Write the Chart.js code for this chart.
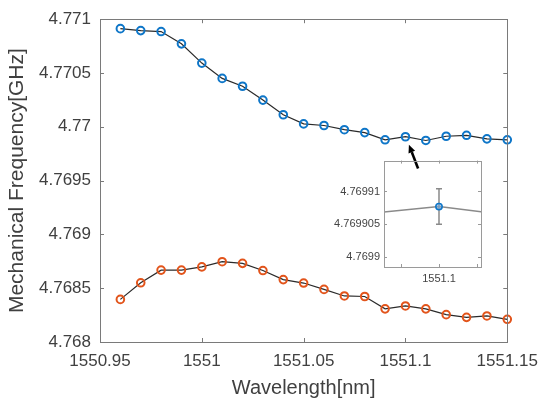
<!DOCTYPE html>
<html>
<head>
<meta charset="utf-8">
<script src="https://cdn.jsdelivr.net/npm/chart.js@4"></script>
<style>
  body { margin: 0; background: #fff; }
  #wrap { position: relative; width: 547px; height: 406px; }
  #main { position: absolute; left: 0; top: 0; }
  #inset { position: absolute; left: 320px; top: 150px; }
</style>
</head>
<body>
<div id="wrap">
  <canvas id="main" width="547" height="406"></canvas>
  <canvas id="inset" width="170" height="140"></canvas>
</div>
<script>
// wavelength [nm]
const wavelength = [1550.96, 1550.97, 1550.98, 1550.99, 1551.00, 1551.01, 1551.02, 1551.03, 1551.04, 1551.05,
                    1551.06, 1551.07, 1551.08, 1551.09, 1551.10, 1551.11, 1551.12, 1551.13, 1551.14, 1551.15];
// mechanical frequency [GHz]
const upperMode = [4.770912, 4.770894, 4.770885, 4.770771, 4.770592, 4.770450, 4.770377, 4.770248, 4.770112, 4.770027,
                   4.770012, 4.769973, 4.769946, 4.769879, 4.7699077, 4.769873, 4.769912, 4.769921, 4.769888, 4.769879];
const lowerMode = [4.768396, 4.768550, 4.768668, 4.768668, 4.768698, 4.768746, 4.768731, 4.768664, 4.768580, 4.768548,
                   4.768489, 4.768428, 4.768423, 4.768308, 4.768335, 4.768308, 4.768254, 4.768229, 4.768242, 4.768211];

// inset: zoom on the point at 1551.1 with its error bar
const errX = [1551.1];
const errLow = [4.769905];
const errHigh = [4.7699104];
const insetXLabels = ['1551.1'];

// arrow pointing from inset to the zoomed point [x, y]
const arrowFrom = [1551.1062, 4.769613];
const arrowTo = [1551.1017, 4.769834];

const FONT = "'Liberation Sans', Arial, sans-serif";
const BLUE = '#0e76c8';
const ORANGE = '#e2541b';

function toPoints(xs, ys) {
  return xs.map((x, i) => ({ x: x, y: ys[i] }));
}

function fmt(digits) {
  return v => String(+Number(v).toFixed(digits));
}

// MATLAB-like box with inward ticks
const boxTicks = {
  id: 'boxTicks',
  afterDraw(chart, args, opts) {
    const { ctx, chartArea: a, scales: { x, y } } = chart;
    ctx.save();
    ctx.strokeStyle = opts.color;
    ctx.lineWidth = 1;
    ctx.beginPath();
    x.ticks.forEach(t => {
      const px = Math.round(x.getPixelForValue(t.value)) + 0.5;
      ctx.moveTo(px, a.bottom); ctx.lineTo(px, a.bottom - opts.len);
      ctx.moveTo(px, a.top); ctx.lineTo(px, a.top + opts.len);
    });
    y.ticks.forEach(t => {
      const py = Math.round(y.getPixelForValue(t.value)) + 0.5;
      ctx.moveTo(a.left, py); ctx.lineTo(a.left + opts.len, py);
      ctx.moveTo(a.right, py); ctx.lineTo(a.right - opts.len, py);
    });
    ctx.stroke();
    ctx.strokeRect(Math.round(a.left) + 0.5, Math.round(a.top) + 0.5,
                   Math.round(a.width), Math.round(a.height));
    ctx.restore();
  }
};

const arrowPlugin = {
  id: 'arrow',
  afterDraw(chart) {
    const { ctx, scales: { x, y } } = chart;
    const x0 = x.getPixelForValue(arrowFrom[0]), y0 = y.getPixelForValue(arrowFrom[1]);
    const x1 = x.getPixelForValue(arrowTo[0]), y1 = y.getPixelForValue(arrowTo[1]);
    const ang = Math.atan2(y1 - y0, x1 - x0);
    const hl = 8, hw = 3.5;
    const bx = x1 - hl * Math.cos(ang), by = y1 - hl * Math.sin(ang);
    ctx.save();
    ctx.strokeStyle = '#000';
    ctx.fillStyle = '#000';
    ctx.lineWidth = 2.6;
    ctx.beginPath();
    ctx.moveTo(x0, y0);
    ctx.lineTo(bx, by);
    ctx.stroke();
    ctx.beginPath();
    ctx.moveTo(x1, y1);
    ctx.lineTo(bx + hw * Math.sin(ang), by - hw * Math.cos(ang));
    ctx.lineTo(bx - hw * Math.sin(ang), by + hw * Math.cos(ang));
    ctx.closePath();
    ctx.fill();
    ctx.restore();
  }
};

const errorBars = {
  id: 'errorBars',
  beforeDatasetsDraw(chart) {
    const { ctx, scales: { x, y } } = chart;
    ctx.save();
    ctx.strokeStyle = '#8a8a8a';
    ctx.lineWidth = 1.5;
    ctx.beginPath();
    errX.forEach((xv, i) => {
      const px = x.getPixelForValue(xv);
      const pl = y.getPixelForValue(errLow[i]), ph = y.getPixelForValue(errHigh[i]);
      ctx.moveTo(px, pl); ctx.lineTo(px, ph);
      ctx.moveTo(px - 3, pl); ctx.lineTo(px + 3, pl);
      ctx.moveTo(px - 3, ph); ctx.lineTo(px + 3, ph);
    });
    ctx.stroke();
    ctx.restore();
  }
};

Chart.defaults.font.family = FONT;
Chart.defaults.animation = false;
Chart.defaults.events = [];

new Chart(document.getElementById('main'), {
  type: 'line',
  data: {
    datasets: [
      {
        data: toPoints(wavelength, upperMode),
        borderColor: '#2a2a2a', borderWidth: 1.2,
        pointRadius: 3.8, pointBorderWidth: 2,
        pointBorderColor: BLUE, pointBackgroundColor: 'rgba(0,0,0,0)',
        clip: false
      },
      {
        data: toPoints(wavelength, lowerMode),
        borderColor: '#2a2a2a', borderWidth: 1.2,
        pointRadius: 3.8, pointBorderWidth: 2,
        pointBorderColor: ORANGE, pointBackgroundColor: 'rgba(0,0,0,0)',
        clip: false
      }
    ]
  },
  options: {
    responsive: false,
    layout: { padding: { top: 13, right: 35, left: 0, bottom: 0 } },
    plugins: {
      legend: { display: false },
      tooltip: { enabled: false },
      boxTicks: { color: '#7a7a7a', len: 4 }
    },
    scales: {
      x: {
        type: 'linear',
        min: 1550.95, max: 1551.15,
        afterFit(s) { s.height = 64; },
        grid: { display: false, drawTicks: false },
        border: { display: false },
        ticks: {
          stepSize: 0.05, padding: 9, maxRotation: 0, autoSkip: false,
          color: '#404040', font: { size: 17 },
          callback: fmt(6)
        },
        title: {
          display: true, text: 'Wavelength[nm]',
          color: '#404040', font: { size: 20 },
          padding: { top: 4, bottom: 6 }
        }
      },
      y: {
        min: 4.768, max: 4.771,
        afterFit(s) { s.width = 100; },
        grid: { display: false, drawTicks: false },
        border: { display: false },
        ticks: {
          stepSize: 0.0005, padding: 9,
          color: '#404040', font: { size: 17 },
          callback: fmt(6)
        },
        title: {
          display: true, text: 'Mechanical Frequency[GHz]',
          color: '#404040', font: { size: 21 },
          padding: { top: 5, bottom: 0 }
        }
      }
    }
  },
  plugins: [boxTicks, arrowPlugin]
});

new Chart(document.getElementById('inset'), {
  type: 'line',
  data: {
    datasets: [
      {
        data: toPoints(wavelength, upperMode),
        borderColor: '#8a8a8a', borderWidth: 1.5,
        pointRadius: 3.2, pointBorderWidth: 1.5,
        pointBorderColor: BLUE, pointBackgroundColor: 'rgba(120,170,220,0.6)',
        clip: 0
      }
    ]
  },
  options: {
    responsive: false,
    layout: { padding: { top: 8, right: 9, left: 0, bottom: 0 } },
    plugins: {
      legend: { display: false },
      tooltip: { enabled: false },
      boxTicks: { color: '#9a9a9a', len: 3 }
    },
    scales: {
      x: {
        type: 'linear',
        min: 1551.099708, max: 1551.100223,
        afterFit(s) { s.height = 23; },
        grid: { display: false, drawTicks: false },
        border: { display: false },
        ticks: {
          stepSize: 0.0002, padding: 5, maxRotation: 0, autoSkip: false, includeBounds: false,
          color: '#444', font: { size: 11 },
          callback: v => {
            const s = fmt(6)(v);
            return insetXLabels.includes(s) ? s : '';
          }
        }
      },
      y: {
        min: 4.7698985, max: 4.7699147,
        afterFit(s) { s.width = 64; },
        grid: { display: false, drawTicks: false },
        border: { display: false },
        ticks: {
          stepSize: 0.000005, padding: 4, includeBounds: false,
          color: '#444', font: { size: 11 },
          callback: fmt(7)
        }
      }
    }
  },
  plugins: [boxTicks, errorBars]
});
</script>
</body>
</html>
